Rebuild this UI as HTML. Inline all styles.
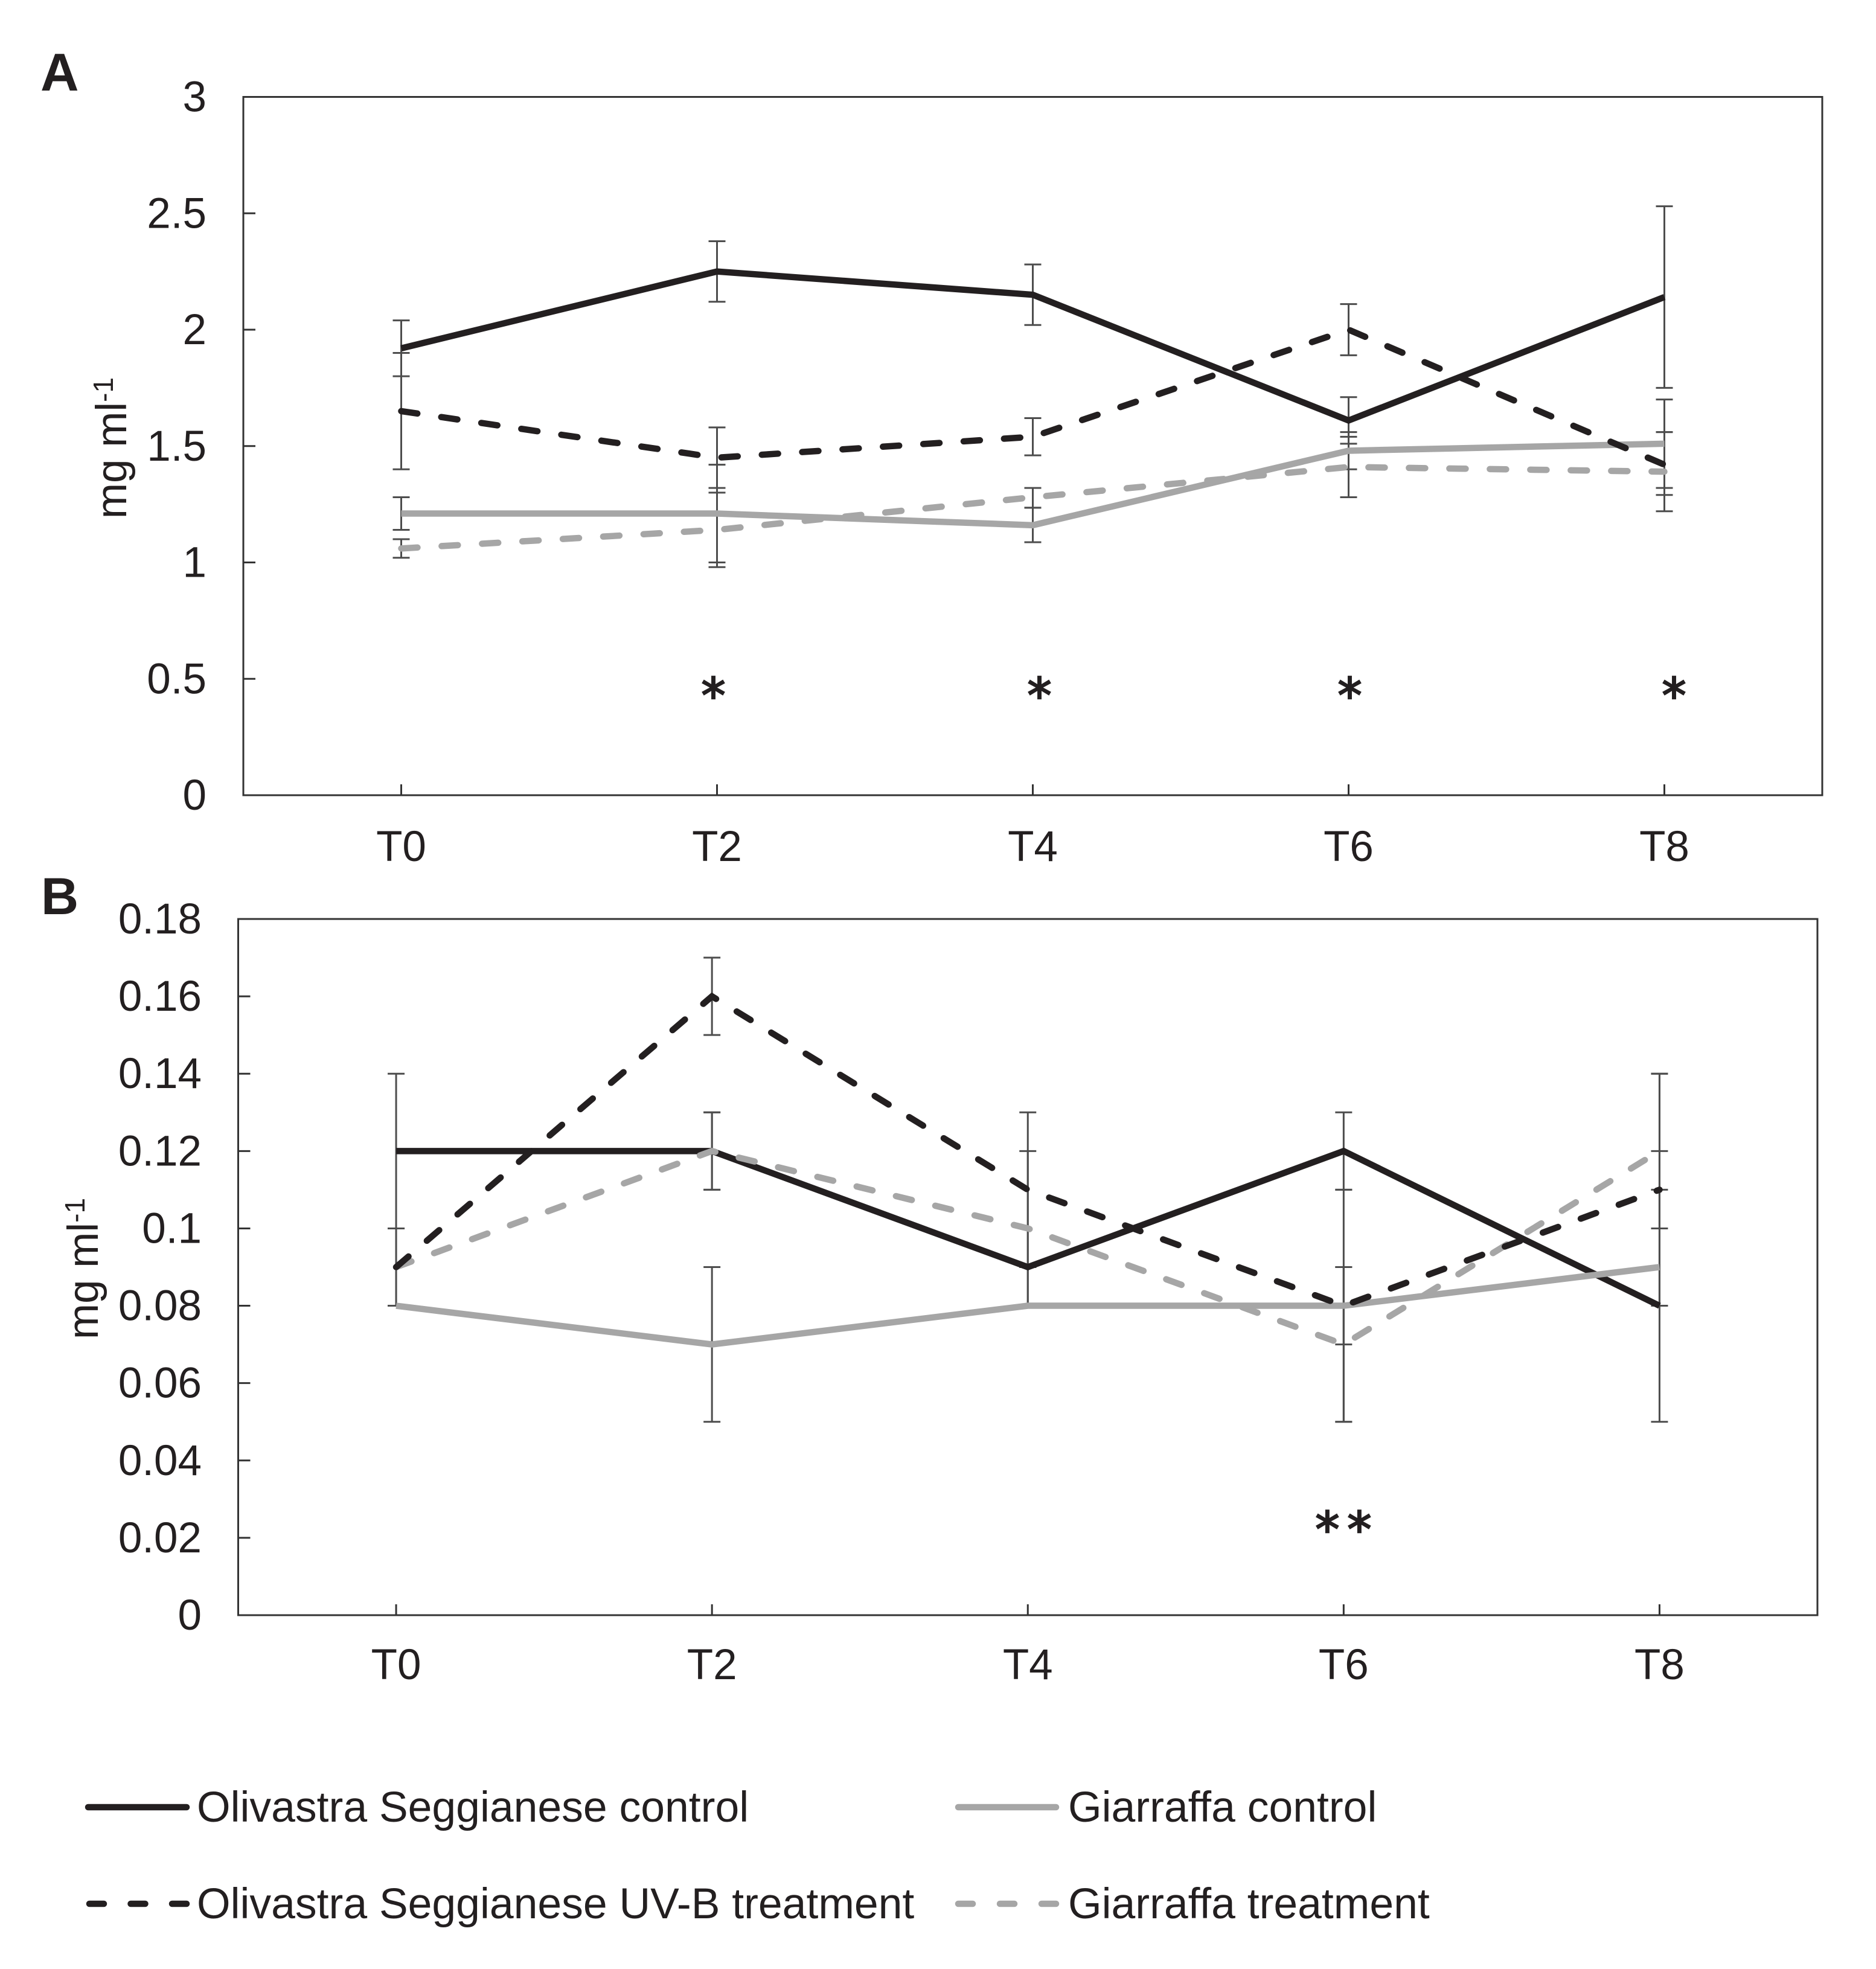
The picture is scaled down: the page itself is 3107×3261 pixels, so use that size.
<!DOCTYPE html>
<html lang="en">
<head>
<meta charset="utf-8">
<title>Panels A and B: concentration over time for Olivastra Seggianese and Giarraffa</title>
<style>
html,body{margin:0;padding:0;background:#fff;}
svg{display:block;}
text{font-family:"Liberation Sans",Arial,sans-serif;fill:#231f20;}
</style>
</head>
<body>
<svg id="chart" xmlns="http://www.w3.org/2000/svg" width="3107" height="3261" viewBox="0 0 3107 3261">
  <rect x="0" y="0" width="3107" height="3261" fill="#ffffff"/>
  <text x="67" y="150" font-size="88" font-weight="700">A</text>
  <text x="68" y="1514" font-size="86" font-weight="700">B</text>

  <g>
    <g>
      <line x1="146" y1="2993" x2="309" y2="2993" stroke="#231f20" stroke-width="10.5" stroke-linecap="round"/>
      <text x="326" y="3017" font-size="71.5">Olivastra Seggianese control</text>
    </g>
    <g>
      <line x1="1587" y1="2993" x2="1749" y2="2993" stroke="#a6a6a6" stroke-width="10.5" stroke-linecap="round"/>
      <text x="1769" y="3017" font-size="71.5">Giarraffa control</text>
    </g>
    <g>
      <line x1="148" y1="3153" x2="309" y2="3153" stroke="#231f20" stroke-width="10.5" stroke-linecap="round" stroke-dasharray="24 44.5"/>
      <text x="326" y="3177" font-size="71.5">Olivastra Seggianese UV-B treatment</text>
    </g>
    <g>
      <line x1="1587" y1="3153" x2="1749" y2="3153" stroke="#a6a6a6" stroke-width="10.5" stroke-linecap="round" stroke-dasharray="24 45"/>
      <text x="1769" y="3177" font-size="71.5">Giarraffa treatment</text>
    </g>
  </g>
</svg>
<script>
// Shared categories
const categories = ['T0', 'T2', 'T4', 'T6', 'T8'];

// Panel A values
const aTickLabels = ['0', '0.5', '1', '1.5', '2', '2.5', '3'];
const aTickValues = [0, 0.5, 1, 1.5, 2, 2.5, 3];
const aOlivastraControl = [1.92, 2.25, 2.15, 1.61, 2.14];
const aOlivastraControlHigh = [2.04, 2.38, 2.28, 1.71, 2.53];
const aOlivastraControlLow = [1.80, 2.12, 2.02, 1.51, 1.75];
const aOlivastraTreatment = [1.65, 1.45, 1.54, 2.00, 1.42];
const aOlivastraTreatmentHigh = [1.90, 1.58, 1.62, 2.11, 1.56];
const aOlivastraTreatmentLow = [1.40, 1.32, 1.46, 1.89, 1.29];
const aGiarraffaControl = [1.21, 1.21, 1.16, 1.48, 1.51];
const aGiarraffaControlHigh = [1.28, 1.42, 1.235, 1.56, 1.70];
const aGiarraffaControlLow = [1.14, 1.00, 1.087, 1.40, 1.32];
const aGiarraffaTreatment = [1.06, 1.14, 1.28, 1.41, 1.39];
const aGiarraffaTreatmentHigh = [1.10, 1.30, 1.32, 1.54, 1.56];
const aGiarraffaTreatmentLow = [1.02, 0.98, 1.235, 1.28, 1.22];
const aStarLabels = ['', '*', '*', '*', '*'];

// Panel B values
const bTickLabels = ['0', '0.02', '0.04', '0.06', '0.08', '0.1', '0.12', '0.14', '0.16', '0.18'];
const bTickValues = [0, 0.02, 0.04, 0.06, 0.08, 0.10, 0.12, 0.14, 0.16, 0.18];
const bOlivastraControl = [0.12, 0.12, 0.09, 0.12, 0.08];
const bOlivastraControlHigh = [0.14, 0.13, 0.09, 0.13, 0.11];
const bOlivastraControlLow = [0.10, 0.11, 0.08, 0.11, 0.05];
const bOlivastraTreatment = [0.09, 0.16, 0.11, 0.08, 0.11];
const bOlivastraTreatmentHigh = [0.10, 0.17, 0.13, 0.09, 0.14];
const bOlivastraTreatmentLow = [0.08, 0.15, 0.09, 0.07, 0.08];
const bGiarraffaControl = [0.08, 0.07, 0.08, 0.08, 0.09];
const bGiarraffaControlHigh = [0.08, 0.09, 0.08, 0.11, 0.12];
const bGiarraffaControlLow = [0.08, 0.05, 0.08, 0.05, 0.08];
const bGiarraffaTreatment = [0.09, 0.12, 0.10, 0.07, 0.12];
const bGiarraffaTreatmentHigh = [0.10, 0.13, 0.12, 0.09, 0.14];
const bGiarraffaTreatmentLow = [0.08, 0.11, 0.08, 0.05, 0.10];
const bStarLabels = ['', '', '', '**', ''];

const SVG_NS = 'http://www.w3.org/2000/svg';
const root = document.getElementById('chart');

function make(tag, parent, attrs) {
  const node = document.createElementNS(SVG_NS, tag);
  for (const key in attrs) node.setAttribute(key, attrs[key]);
  parent.appendChild(node);
  return node;
}

function drawPanel(p) {
  const group = make('g', root, {});
  
  

  const xScale = i => p.left + (p.right - p.left) * (i + 0.5) / categories.length;
  const yScale = v => p.bottom - (p.bottom - p.top) * v / p.yMax;

  const frame = make('rect', group, {
    x: p.left, y: p.top, width: p.right - p.left, height: p.bottom - p.top,
    fill: 'none', stroke: '#333333', 'stroke-width': 3
  });
  
  

  p.tickValues.forEach((v, i) => {
    const y = yScale(v);
    if (i > 0 && i < p.tickValues.length - 1) {
      const tick = make('line', group, { x1: p.left, x2: p.left + 20, y1: y, y2: y, stroke: '#333333', 'stroke-width': 3 });
      
      
    }
    const label = make('text', group, { x: p.yLabelX, y: y + 24, 'font-size': 71, 'text-anchor': 'end' });
    label.textContent = p.tickLabels[i];
    
    
  });

  categories.forEach((c, i) => {
    const x = xScale(i);
    const tick = make('line', group, { x1: x, x2: x, y1: p.bottom, y2: p.bottom - 18, stroke: '#333333', 'stroke-width': 3 });
    
    
    const label = make('text', group, { x: x, y: p.xLabelY, 'font-size': 71, 'text-anchor': 'middle' });
    label.textContent = c;
    
    
  });

  const title = make('text', group, {
    transform: 'translate(' + p.titleX + ',' + p.titleY + ') rotate(-90)',
    'font-size': 71, 'text-anchor': 'middle'
  });
  
  
  const base = make('tspan', title, {});
  base.textContent = 'mg ml';
  const sup = make('tspan', title, { 'font-size': 46, dy: -22 });
  sup.textContent = '-1';

  p.series.forEach(s => {
    categories.forEach((c, i) => {
      const x = xScale(i);
      const hi = yScale(s.high[i]);
      const lo = yScale(s.low[i]);
      if (s.high[i] === s.low[i]) return;
      const bar = make('line', group, { x1: x, x2: x, y1: hi, y2: lo, stroke: '#4d4d4d', 'stroke-width': 3 });
      
      
      [hi, lo].forEach(y => {
        const cap = make('line', group, { x1: x - 14, x2: x + 14, y1: y, y2: y, stroke: '#4d4d4d', 'stroke-width': 3 });
        
        
      });
    });
  });

  p.series.forEach(s => {
    const points = s.values.map((v, i) => xScale(i) + ',' + yScale(v)).join(' ');
    const line = make('polyline', group, {
      points: points, fill: 'none', stroke: s.color, 'stroke-width': 10.5,
      'stroke-linejoin': 'miter', 'stroke-linecap': s.dashed ? 'round' : 'butt'
    });
    if (s.dashed) line.setAttribute('stroke-dasharray', '27 40');
    
    
  });

  p.stars.forEach((star, i) => {
    if (!star) return;
    const mark = make('text', group, {
      x: xScale(i) + p.starDx[i], y: p.starY, 'font-size': 80, 'text-anchor': 'middle',
      style: 'font-family:"DejaVu Sans",sans-serif;letter-spacing:' + p.starSpacing + 'px;stroke:#231f20;stroke-width:2.5px'
    });
    mark.textContent = star;
    
    
  });
}

drawPanel({
  id: 'panel-a', left: 403, right: 3018, top: 160.5, bottom: 1317, yMax: 3,
  yLabelX: 342, xLabelY: 1426, titleX: 209, titleY: 742, starY: 1180,
  starDx: [0, -6, 11, 2, 16], starSpacing: 0,
  tickValues: aTickValues, tickLabels: aTickLabels, stars: aStarLabels,
  series: [
    { key: 'olivastra-control', color: '#231f20', dashed: false, values: aOlivastraControl, high: aOlivastraControlHigh, low: aOlivastraControlLow },
    { key: 'giarraffa-control', color: '#a6a6a6', dashed: false, values: aGiarraffaControl, high: aGiarraffaControlHigh, low: aGiarraffaControlLow },
    { key: 'giarraffa-treatment', color: '#a6a6a6', dashed: true, values: aGiarraffaTreatment, high: aGiarraffaTreatmentHigh, low: aGiarraffaTreatmentLow },
    { key: 'olivastra-treatment', color: '#231f20', dashed: true, values: aOlivastraTreatment, high: aOlivastraTreatmentHigh, low: aOlivastraTreatmentLow }
  ]
});

drawPanel({
  id: 'panel-b', left: 394.5, right: 3010, top: 1522, bottom: 2675, yMax: 0.18,
  yLabelX: 334, xLabelY: 2781, titleX: 162, titleY: 2101, starY: 2561,
  starDx: [0, 0, 0, 6, 0], starSpacing: 13,
  tickValues: bTickValues, tickLabels: bTickLabels, stars: bStarLabels,
  series: [
    { key: 'olivastra-control', color: '#231f20', dashed: false, values: bOlivastraControl, high: bOlivastraControlHigh, low: bOlivastraControlLow },
    { key: 'giarraffa-control', color: '#a6a6a6', dashed: false, values: bGiarraffaControl, high: bGiarraffaControlHigh, low: bGiarraffaControlLow },
    { key: 'giarraffa-treatment', color: '#a6a6a6', dashed: true, values: bGiarraffaTreatment, high: bGiarraffaTreatmentHigh, low: bGiarraffaTreatmentLow },
    { key: 'olivastra-treatment', color: '#231f20', dashed: true, values: bOlivastraTreatment, high: bOlivastraTreatmentHigh, low: bOlivastraTreatmentLow }
  ]
});
</script>
</body>
</html>
